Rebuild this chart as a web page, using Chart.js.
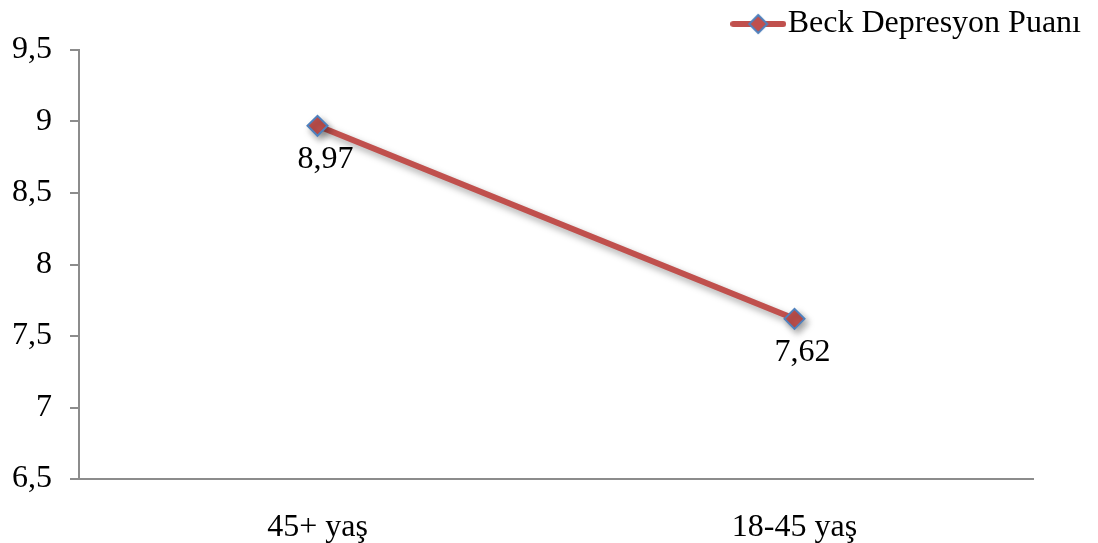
<!DOCTYPE html>
<html>
<head>
<meta charset="utf-8">
<script src="https://cdn.jsdelivr.net/npm/chart.js@4/dist/chart.umd.min.js"></script>
<style>
  html, body { margin: 0; padding: 0; background: #fff; }
  #wrap { width: 1098px; height: 543px; }
</style>
</head>
<body>
<div id="wrap"><canvas id="chart" width="1098" height="543"></canvas></div>
<script>
const categories = ['45+ yaş', '18-45 yaş'];
const seriesName = 'Beck Depresyon Puanı';
const scores = [8.97, 7.62];
const yTicks = [6.5, 7, 7.5, 8, 8.5, 9, 9.5];

const FONT = '"Liberation Serif", "Times New Roman", serif';
const FSIZE = 32;
const RED = '#C0504D';
const BLUE = '#4F81BD';
const comma = v => String(v).replace('.', ',');

// legend marker: short line with a diamond
const legendIcon = document.createElement('canvas');
legendIcon.width = 56;
legendIcon.height = 22;
(() => {
  const c = legendIcon.getContext('2d');
  c.strokeStyle = RED;
  c.lineWidth = 6;
  c.lineCap = 'round';
  c.beginPath();
  c.moveTo(3, 11);
  c.lineTo(53, 11);
  c.stroke();
  c.beginPath();
  c.moveTo(28, 2); c.lineTo(37, 11); c.lineTo(28, 20); c.lineTo(19, 11); c.closePath();
  c.fillStyle = RED;
  c.fill();
  c.lineWidth = 2;
  c.strokeStyle = BLUE;
  c.stroke();
})();

const shadowPlugin = {
  id: 'shadow',
  beforeDatasetDraw(chart) {
    const ctx = chart.ctx;
    ctx.save();
    ctx.shadowColor = 'rgba(0,0,0,0.35)';
    ctx.shadowBlur = 7;
    ctx.shadowOffsetX = 3;
    ctx.shadowOffsetY = 4;
  },
  afterDatasetDraw(chart) {
    chart.ctx.restore();
  }
};

const valueLabels = {
  id: 'valueLabels',
  afterDatasetsDraw(chart) {
    const ctx = chart.ctx;
    const meta = chart.getDatasetMeta(0);
    ctx.save();
    ctx.font = FSIZE + 'px ' + FONT;
    ctx.fillStyle = '#000';
    ctx.textAlign = 'center';
    ctx.textBaseline = 'middle';
    meta.data.forEach((pt, i) => {
      ctx.fillText(comma(scores[i]), pt.x + 8, pt.y + 34);
    });
    ctx.restore();
  }
};

new Chart(document.getElementById('chart'), {
  type: 'line',
  data: {
    labels: categories,
    datasets: [{
      label: seriesName,
      data: scores,
      borderColor: RED,
      borderWidth: 6,
      backgroundColor: RED,
      pointStyle: 'rectRot',
      pointRadius: 10,
      pointBackgroundColor: RED,
      pointBorderColor: BLUE,
      pointBorderWidth: 2,
      tension: 0
    }]
  },
  options: {
    responsive: false,
    animation: false,
    layout: { padding: { top: 0, right: 15, bottom: 0, left: 0 } },
    plugins: {
      tooltip: { enabled: false },
      legend: {
        position: 'top',
        align: 'end',
        labels: {
          usePointStyle: true,
          pointStyleWidth: 27,
          boxHeight: 22,
          padding: 2,
          color: '#000',
          font: { family: FONT, size: FSIZE },
          generateLabels: (chart) => [{
            text: seriesName,
            pointStyle: legendIcon,
            fillStyle: RED,
            strokeStyle: BLUE,
            lineWidth: 0,
            datasetIndex: 0
          }]
        }
      }
    },
    scales: {
      x: {
        offset: true,
        grid: { display: false },
        border: { display: true, color: '#8c8c8c', width: 2 },
        ticks: { color: '#000', padding: 21, font: { family: FONT, size: FSIZE } },
        afterFit: s => { s.height = 64; }
      },
      y: {
        min: 6.5,
        max: 9.5,
        afterBuildTicks: s => { s.ticks = yTicks.map(v => ({ value: v })); },
        grid: { drawOnChartArea: false, drawTicks: true, tickLength: 9, color: '#8c8c8c', lineWidth: 2 },
        border: { display: true, color: '#8c8c8c', width: 2 },
        ticks: { color: '#000', padding: 18, font: { family: FONT, size: FSIZE }, callback: v => comma(v) },
        afterFit: s => { s.width = 79; s.paddingTop = 50; }
      },
      yRight: {
        position: 'right',
        display: true,
        grid: { display: false },
        border: { display: false },
        ticks: { display: false },
        afterFit: s => { s.width = 50; }
      }
    }
  },
  plugins: [shadowPlugin, valueLabels]
});
</script>
</body>
</html>
